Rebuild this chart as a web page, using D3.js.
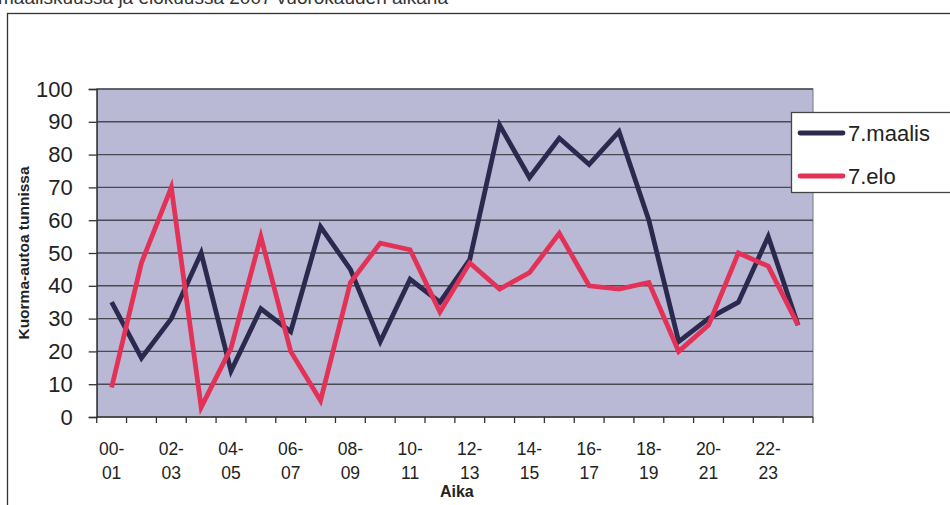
<!DOCTYPE html>
<html>
<head>
<meta charset="utf-8">
<script src="https://cdn.jsdelivr.net/npm/d3@7"></script>
<style>
  html, body { margin: 0; padding: 0; background: #fff; }
  svg { display: block; font-family: "Liberation Sans", Arial, Helvetica, sans-serif; }
</style>
</head>
<body>
<svg id="chart" width="950" height="505"></svg>
<script>
// Hourly truck counts, 00-01 ... 23-24
const hours = ["00-01","01-02","02-03","03-04","04-05","05-06","06-07","07-08",
               "08-09","09-10","10-11","11-12","12-13","13-14","14-15","15-16",
               "16-17","17-18","18-19","19-20","20-21","21-22","22-23","23-24"];
const maalis = [35, 18, 30, 50, 14, 33, 26, 58, 45, 23, 42, 35,
                48, 89, 73, 85, 77, 87, 60, 23, 30, 35, 55, 28];
const elo    = [9, 47, 70, 3, 21, 55, 20, 5, 41, 53, 51, 32,
                47, 39, 44, 56, 40, 39, 41, 20, 28, 50, 46, 28];
const yTicks = [0, 10, 20, 30, 40, 50, 60, 70, 80, 90, 100];
const seriesNames = ["7.maalis", "7.elo"];
const seriesColors = ["#2b2a4e", "#e23258"];

const svg = d3.select("#chart");
const plot = { left: 96.7, right: 813, top: 89, bottom: 417 };

// heading line running off the top edge
svg.append("text")
  .attr("x", -2).attr("y", 4)
  .attr("font-size", 19).attr("fill", "#333")
  .text("maaliskuussa ja elokuussa 2007 vuorokauden aikana");

// outer frame
svg.append("rect")
  .attr("x", 7.5).attr("y", 13.5).attr("width", 960).attr("height", 520)
  .attr("fill", "none").attr("stroke", "#333").attr("stroke-width", 1.3);

const x = d3.scaleBand().domain(hours).range([plot.left, plot.right]);
const y = d3.scaleLinear().domain([0, 100]).range([plot.bottom, plot.top]);

// plot background
svg.append("rect")
  .attr("x", plot.left).attr("y", plot.top)
  .attr("width", plot.right - plot.left).attr("height", plot.bottom - plot.top)
  .attr("fill", "#bab9d5").attr("stroke", "#777").attr("stroke-width", 1);

// horizontal gridlines
svg.append("g").selectAll("line").data(yTicks.filter(d => d > 0)).join("line")
  .attr("x1", plot.left).attr("x2", plot.right)
  .attr("y1", d => y(d)).attr("y2", d => y(d))
  .attr("stroke", "#4a4a52").attr("stroke-width", 1.4);

// y axis
const yAxis = svg.append("g")
  .attr("transform", `translate(${plot.left},0)`)
  .call(d3.axisLeft(y).tickValues(yTicks).tickSize(8).tickPadding(16));
yAxis.select(".domain").attr("stroke", "#333").attr("stroke-width", 1.3);
yAxis.selectAll(".tick line").attr("stroke", "#333").attr("stroke-width", 1.3);
yAxis.selectAll(".tick text").attr("font-size", 22).attr("fill", "#222")
  .attr("font-family", "Liberation Sans, Arial, sans-serif");

// x axis: ticks on category boundaries, labels every other hour on two lines
const xg = svg.append("g").attr("transform", `translate(0,${plot.bottom})`);
xg.append("line").attr("x1", plot.left).attr("x2", plot.right)
  .attr("stroke", "#333").attr("stroke-width", 1.5);
const boundaries = hours.map(h => x(h)).concat([plot.right]);
xg.selectAll("line.tk").data(boundaries).join("line").attr("class", "tk")
  .attr("x1", d => d).attr("x2", d => d).attr("y1", 0).attr("y2", 6)
  .attr("stroke", "#333").attr("stroke-width", 1.3);
const lab = xg.selectAll("text.lab").data(hours.filter((h, i) => i % 2 === 0)).join("text")
  .attr("class", "lab")
  .attr("text-anchor", "middle").attr("font-size", 17.5).attr("fill", "#222");
lab.append("tspan").attr("x", d => x(d) + x.bandwidth() / 2).attr("y", 38)
  .text(d => d.split("-")[0] + "-");
lab.append("tspan").attr("x", d => x(d) + x.bandwidth() / 2).attr("y", 62)
  .text(d => d.split("-")[1]);

// axis titles
svg.append("text")
  .attr("x", (plot.left + plot.right) / 2 + 2).attr("y", 497)
  .attr("text-anchor", "middle").attr("font-size", 16).attr("font-weight", "bold")
  .attr("fill", "#222").text("Aika");
svg.append("text")
  .attr("transform", `translate(29,${(plot.top + plot.bottom) / 2}) rotate(-90)`)
  .attr("text-anchor", "middle").attr("font-size", 15.5).attr("font-weight", "bold")
  .attr("fill", "#222").text("Kuorma-autoa tunnissa");

// series lines
const line = d3.line()
  .x((d, i) => x(hours[i]) + x.bandwidth() / 2)
  .y(d => y(d));
[maalis, elo].forEach((vals, k) => {
  svg.append("path").datum(vals)
    .attr("d", line)
    .attr("fill", "none")
    .attr("stroke", seriesColors[k])
    .attr("stroke-width", 4.8)
    .attr("stroke-linejoin", "miter");
});

// legend
const lg = svg.append("g");
lg.append("rect")
  .attr("x", 791.5).attr("y", 112.5).attr("width", 170).attr("height", 80)
  .attr("fill", "#fff").attr("stroke", "#444").attr("stroke-width", 1.3);
seriesNames.forEach((name, k) => {
  const cy = 133 + k * 43;
  lg.append("line").attr("x1", 800).attr("x2", 843).attr("y1", cy).attr("y2", cy)
    .attr("stroke", seriesColors[k]).attr("stroke-width", 4.8).attr("stroke-linecap", "round");
  lg.append("text").attr("x", 848).attr("y", cy + 8)
    .attr("font-size", 22).attr("fill", "#222").text(name);
});
</script>
</body>
</html>
